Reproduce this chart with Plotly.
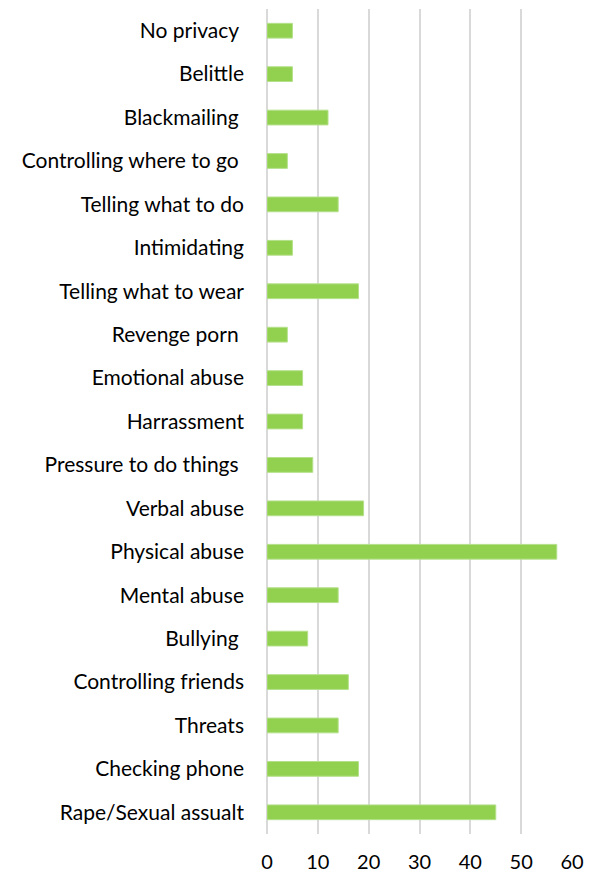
import plotly.graph_objects as go

# Reported forms of abuse, listed top to bottom
categories = [
    "No privacy\u00a0",
    "Belittle",
    "Blackmailing\u00a0",
    "Controlling where to go\u00a0",
    "Telling what to do",
    "Intimidating",
    "Telling what to wear",
    "Revenge porn\u00a0",
    "Emotional abuse",
    "Harrassment",
    "Pressure to do things\u00a0",
    "Verbal abuse",
    "Physical abuse",
    "Mental abuse",
    "Bullying\u00a0",
    "Controlling friends",
    "Threats",
    "Checking phone",
    "Rape/Sexual assualt",
]
counts = [5, 5, 12, 4, 14, 5, 18, 4, 7, 7, 9, 19, 57, 14, 8, 16, 14, 18, 45]
x_ticks = [0, 10, 20, 30, 40, 50, 60]

FONT = "Lato, Carlito, Calibri, sans-serif"

fig = go.Figure(
    go.Bar(
        x=counts,
        y=categories,
        orientation="h",
        marker=dict(color="#92d050", line=dict(color="#b4e08a", width=1)),
    )
)

fig.update_layout(
    width=592,
    height=874,
    margin=dict(l=267, r=20, t=9, b=40, autoexpand=False),
    paper_bgcolor="white",
    plot_bgcolor="white",
    bargap=0.66,
    showlegend=False,
    font=dict(family=FONT, size=21, color="#000000"),
)

fig.update_xaxes(
    range=[0, 60],
    tickvals=x_ticks,
    automargin=False,
    showgrid=True,
    gridcolor="#d9d9d9",
    gridwidth=1.5,
    zeroline=True,
    zerolinecolor="#d9d9d9",
    zerolinewidth=1.5,
    showline=False,
    ticks="",
    ticklabelstandoff=14,
    tickfont=dict(family=FONT, size=20, color="#000000"),
)

fig.update_yaxes(
    autorange="reversed",
    automargin=False,
    showgrid=False,
    showline=False,
    zeroline=False,
    ticks="",
    ticklabelstandoff=22,
    tickfont=dict(family=FONT, size=21, color="#000000"),
)

fig.write_html("out.html")
